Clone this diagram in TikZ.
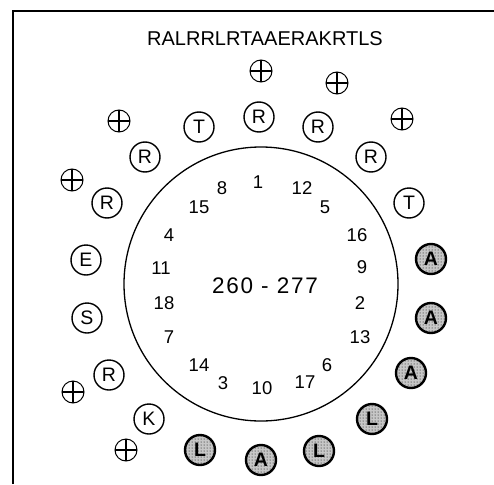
\documentclass[tikz,border=0pt]{standalone}
\usepackage{fontspec}
\setmainfont{Liberation Sans}
\newfontfamily\ctrfont[LetterSpace=8]{Liberation Sans}
\usetikzlibrary{patterns}
\tikzset{
  lt/.style={circle, draw, line width=1.4pt, minimum size=30pt, inner sep=0pt, font=\fontsize{19.5}{19.5}\selectfont},
  sh/.style={lt, line width=2.4pt, preaction={fill=black!22}, pattern=dots, pattern color=black, font=\fontsize{19.5}{19.5}\selectfont\bfseries},
  pl/.style={circle, draw, line width=1pt, minimum size=22pt, inner sep=0pt,
    path picture={\draw[line width=1.1pt] (path picture bounding box.north) -- (path picture bounding box.south)
                  (path picture bounding box.west) -- (path picture bounding box.east);}},
  num/.style={font=\fontsize{18.5}{18.5}\selectfont, inner sep=0pt},
  frame/.style={line width=1.4pt}
}
\begin{document}
\begin{tikzpicture}[x=1pt, y=-1pt]
\useasboundingbox (0,0) rectangle (494,484);
\coordinate (fa) at (13,484);
\coordinate (fb) at (13,11);
\coordinate (fc) at (494,11);
\draw[frame] (fa) -- (fb) -- (fc);
\node[font=\fontsize{20}{20}\selectfont, inner sep=0pt] (title) at (265,39) {RALRRLRTAAERAKRTLS};
\node[circle, draw, line width=1.3pt, minimum size=274pt, inner sep=0pt] (big) at (261,284) {};
\node[font=\fontsize{22.5}{22.5}\selectfont\ctrfont, inner sep=0pt] (ctr) at (265,286) {260 - 277};
% numbers
\node[num] (n1) at (258,182) {1};
\node[num] (n12) at (302,188) {12};
\node[num] (n5) at (325,207) {5};
\node[num] (n16) at (357,235) {16};
\node[num] (n9) at (362,267) {9};
\node[num] (n2) at (360,303) {2};
\node[num] (n13) at (360,337) {13};
\node[num] (n6) at (327,365) {6};
\node[num] (n17) at (305,382) {17};
\node[num] (n10) at (262,388) {10};
\node[num] (n3) at (223,383) {3};
\node[num] (n14) at (199,365) {14};
\node[num] (n7) at (169,337) {7};
\node[num] (n18) at (164,303) {18};
\node[num] (n11) at (161,268) {11};
\node[num] (n4) at (169,235) {4};
\node[num] (n15) at (199,207) {15};
\node[num] (n8) at (222,188) {8};
% letter circles
\node[lt] (c1) at (259,117) {R};
\node[lt] (c2) at (199,127) {T};
\node[lt] (c3) at (318,127) {R};
\node[lt] (c4) at (145,157) {R};
\node[lt] (c5) at (371,157) {R};
\node[lt] (c6) at (107,203) {R};
\node[lt] (c7) at (409,203) {T};
\node[lt] (c8) at (86,260) {E};
\node[lt] (c9) at (87,318) {S};
\node[lt] (c10) at (109,375) {R};
\node[lt] (c11) at (149,419) {K};
\node[sh] (s1) at (431,259) {A};
\node[sh] (s2) at (431,318) {A};
\node[sh] (s3) at (411,373) {A};
\node[sh] (s4) at (372,419) {L};
\node[sh] (s5) at (319,451) {L};
\node[sh] (s6) at (261,460) {A};
\node[sh] (s7) at (200,450) {L};
% plus circles
\node[pl] (p1) at (261,71) {};
\node[pl] (p2) at (337,83) {};
\node[pl] (p3) at (402,119) {};
\node[pl] (p4) at (119,121) {};
\node[pl] (p5) at (72,180) {};
\node[pl] (p6) at (73,392) {};
\node[pl] (p7) at (126,450) {};
\end{tikzpicture}
\end{document}
